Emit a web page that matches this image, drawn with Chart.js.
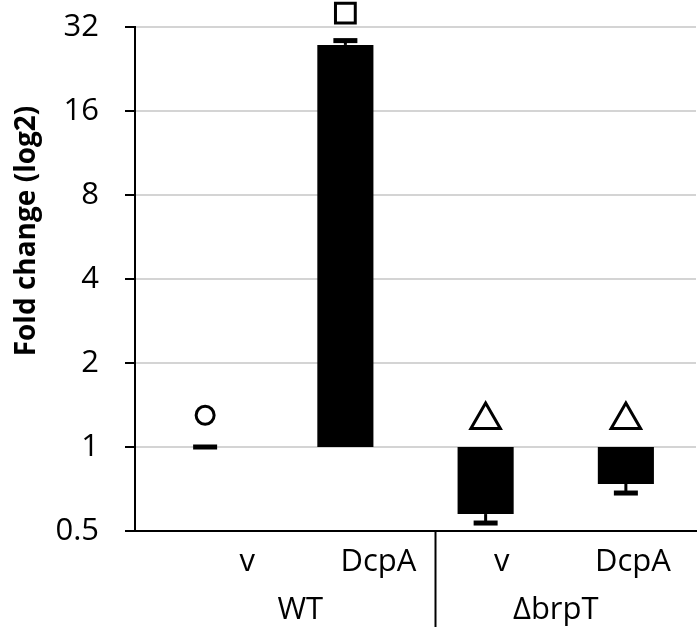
<!DOCTYPE html>
<html>
<head>
<meta charset="utf-8">
<script src="https://cdn.jsdelivr.net/npm/chart.js@4/dist/chart.umd.min.js"></script>
<style>
  html, body { margin: 0; padding: 0; background: #fff; }
  #wrap { width: 700px; height: 632px; }
</style>
</head>
<body>
<div id="wrap"><canvas id="cvs"></canvas></div>
<script>
// data
var categories = ["v", "DcpA", "v", "DcpA"];
var groups = ["WT", "\u0394brpT"];
var baseline = 1;
var foldChange = [1, 27.6, 0.575, 0.737];
var errorEnd = [1, 28.6, 0.534, 0.684];
var markerValue = [1.30, 35.9, 1.25, 1.25];
var markerStyle = ["circle", "rect", "triangle", "triangle"];
var yTicks = [0.5, 1, 2, 4, 8, 16, 32];

var fontName = "'Open Sans', sans-serif";

// floating bars from the baseline of 1
var barData = foldChange.map(function (v) { return [baseline, v]; });

// error caps
var errorBars = {
    id: "errorBars",
    afterDatasetsDraw: function (chart) {
        var ctx = chart.ctx;
        var y = chart.scales.y;
        var meta = chart.getDatasetMeta(0);
        ctx.save();
        ctx.fillStyle = "#000";
        meta.data.forEach(function (bar, i) {
            var yv = y.getPixelForValue(foldChange[i]);
            var ye = y.getPixelForValue(errorEnd[i]);
            ctx.fillRect(bar.x - 1.5, Math.min(yv, ye), 3, Math.abs(ye - yv));
            ctx.fillRect(bar.x - 12, ye - 2.5, 24, 5);
        });
        ctx.restore();
    }
};

// category labels, group labels, divider and y title
var labelShift = [42, 33, 16, 7];
var extraText = {
    id: "extraText",
    afterDraw: function (chart) {
        var ctx = chart.ctx;
        var x = chart.scales.x;
        var area = chart.chartArea;
        ctx.save();
        ctx.fillStyle = "#000";
        ctx.textAlign = "center";
        ctx.textBaseline = "middle";
        ctx.font = "31px " + fontName;
        categories.forEach(function (c, i) {
            ctx.fillText(c, x.getPixelForValue(i) + labelShift[i], area.bottom + 31);
        });
        var mid01 = (x.getPixelForValue(0) + x.getPixelForValue(1)) / 2;
        var mid23 = (x.getPixelForValue(2) + x.getPixelForValue(3)) / 2;
        ctx.fillText(groups[0], mid01 + 25, area.bottom + 79);
        ctx.fillText(groups[1], mid23, area.bottom + 79);

        var divX = (x.getPixelForValue(1) + x.getPixelForValue(2)) / 2 + 20;
        ctx.strokeStyle = "#000";
        ctx.lineWidth = 2;
        ctx.beginPath();
        ctx.moveTo(divX, area.bottom);
        ctx.lineTo(divX, area.bottom + 96);
        ctx.stroke();

        ctx.translate(27, 231);
        ctx.rotate(-Math.PI / 2);
        ctx.font = "bold 28px " + fontName;
        ctx.fillText("Fold change (log2)", 0, 0);
        ctx.restore();
    }
};

var ctx = document.getElementById("cvs").getContext("2d");
new Chart(ctx, {
    data: {
        labels: categories,
        datasets: [
            {
                type: "bar",
                data: barData,
                backgroundColor: "#000",
                borderWidth: 0,
                barPercentage: 0.4,
                categoryPercentage: 1,
                order: 2
            },
            {
                type: "line",
                data: markerValue,
                showLine: false,
                pointStyle: markerStyle,
                pointRadius: [9, 14, 17, 17],
                pointBorderWidth: 3,
                pointBorderColor: "#000",
                pointBackgroundColor: "#fff",
                clip: false,
                order: 1
            }
        ]
    },
    options: {
        responsive: true,
        maintainAspectRatio: false,
        animation: false,
        layout: { autoPadding: false, padding: { top: 27, right: 4, left: 0, bottom: 0 } },
        plugins: {
            legend: { display: false },
            tooltip: { enabled: false }
        },
        scales: {
            x: {
                type: "category",
                grid: { display: false },
                border: { color: "#000", width: 2 },
                ticks: { display: false },
                afterFit: function (scale) { scale.height = 101; }
            },
            y: {
                type: "logarithmic",
                min: 0.5,
                max: 32,
                afterBuildTicks: function (scale) {
                    scale.ticks = yTicks.map(function (v) { return { value: v }; });
                },
                afterFit: function (scale) {
                    scale.width = 135;
                    scale.paddingTop = 0;
                    scale.paddingBottom = 0;
                },
                grid: {
                    color: "#d4d4d4",
                    lineWidth: 2,
                    tickColor: "#000",
                    tickWidth: 2,
                    tickLength: 10
                },
                border: { color: "#000", width: 2 },
                ticks: {
                    color: "#000",
                    padding: 26,
                    font: { family: fontName, size: 31 },
                    callback: function (v) { return String(v); }
                }
            }
        }
    },
    plugins: [errorBars, extraText]
});
</script>
</body>
</html>
